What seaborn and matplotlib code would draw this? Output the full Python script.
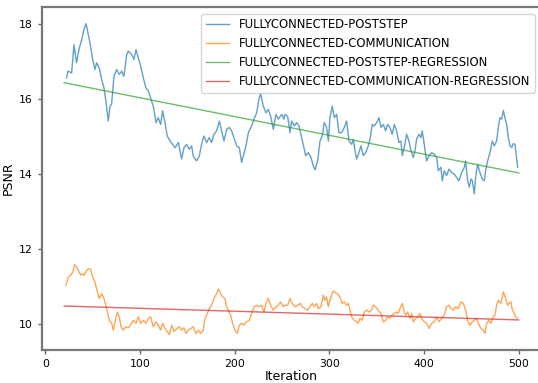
import numpy as np
import pandas as pd
import matplotlib
matplotlib.use("Agg")
import matplotlib.pyplot as plt
import seaborn as sns

# ---- data ----
poststep_iter = [22.5, 24, 27.8, 30.3, 33, 35.9, 38.4, 40.8, 43, 44.4, 47.2, 50, 52.5, 54.2, 57, 59.5,
                 62, 64, 66.5, 68.3, 70, 72.5, 75.3, 78.2, 80.6, 83, 86, 87.7, 91.2, 93.6, 95.8, 98.2,
                 100.7, 103.5, 106.3, 108.8, 111.2, 114, 116.9, 119.3, 121.8, 123.9, 126.4, 128.8, 131.7,
                 134.5, 137, 140.5, 144, 146.4, 149.3, 152, 154.5, 156.3, 159.8, 162.6, 165, 167.5, 170.4,
                 173.2, 175.6, 178.1, 180.9, 183.8, 186.2, 188.7, 191.5, 194.3, 196.8, 199.2, 202.1, 204.9,
                 207.3, 209.1, 211.9, 214.4, 217.9, 220.4, 223.2, 225.6, 227.4, 230.2, 233, 235.5, 238,
                 240.8, 243.6, 246.1, 249.6, 252,
                 253.1, 255.9, 258.4, 260.1, 263, 265.4, 267.9, 270.7, 273.5, 274.9, 277.7, 280.6, 283,
                 284.8, 287.6, 290.1, 292.5, 294.6, 297.1, 298.9, 300.6, 303.1, 305.2, 307.7, 310.1, 312.9,
                 315.8, 318.2, 320.7, 323.5, 325.3, 327, 328.8, 331.2, 333.4, 335.8, 338.3, 341.1, 342.9,
                 345.3, 347.4, 349.9, 352.4, 354.5, 357, 359.4, 361.5, 364, 366.4, 368.6, 371, 373.5, 375.6,
                 377, 379.1, 381.6, 384, 386.2, 388.6, 390.4, 392.1, 394.6, 396.7, 398.1, 400.2, 402.7,
                 405.2, 408, 410.8, 413.3, 415, 417.8, 419.2, 421.4, 423.8, 426.3, 429.1, 431.9, 434.4,
                 436.8, 439.7, 442.5, 443.9, 446, 447.8, 449.5, 451, 453, 454.4, 456.6, 459, 461.5, 463.6,
                 465, 467.1, 469.6, 472, 474.2, 476.6, 478.4, 480.1, 481.9, 483.7, 485.4, 487.2, 489,
                 490.7, 492.5, 494.2, 496, 498.8]
poststep_psnr = [16.56, 16.74, 16.69, 17.44, 16.96, 17.35, 17.57, 17.84, 18.0, 17.84, 17.49, 17.05, 16.78,
                 16.96, 16.82, 16.52, 16.29, 15.94, 15.41, 15.81, 15.85, 16.60, 16.78, 16.65, 16.74, 16.60,
                 17.18, 17.27, 17.18, 17.05, 17.31, 17.09, 16.87, 16.56, 16.29, 16.21, 16.03, 15.81, 15.37,
                 15.50, 15.32, 15.68, 15.37, 15.01, 14.88, 14.79, 14.70, 14.84, 14.40, 14.70, 14.79, 14.66,
                 14.75, 14.48, 14.35, 14.48, 14.79, 15.01, 14.84, 14.97, 14.84, 15.06, 15.15, 15.41, 15.15,
                 14.88, 15.19, 15.24, 15.15, 14.97, 14.75, 14.70, 14.31, 14.48, 14.75, 15.10, 15.28, 15.46,
                 15.63, 15.99, 16.14, 15.81, 15.63, 15.72, 15.54, 15.19, 15.59, 15.46, 15.59, 15.46,
                 15.59, 15.54, 15.10, 15.41, 15.28, 15.37, 15.28, 14.97, 14.66, 14.49, 14.57, 14.44, 14.22,
                 14.11, 14.35, 14.88, 15.02, 15.37, 15.24, 14.88, 15.50, 15.81, 15.50, 15.59, 15.10, 15.10,
                 15.24, 15.41, 14.88, 14.79, 14.93, 14.62, 14.40, 14.57, 14.75, 14.49, 14.57, 14.75, 14.93,
                 15.32, 15.28, 15.37, 15.50, 15.24, 15.32, 15.15, 15.32, 15.24, 15.06, 15.32, 15.15, 14.84,
                 14.88, 14.49, 14.71, 15.06, 14.88, 14.62, 14.44, 14.62, 14.93, 15.06, 14.97, 15.15, 14.79,
                 14.35, 14.49, 14.57, 14.53, 14.44, 14.09, 14.18, 13.82, 14.09, 13.96, 14.13, 14.04, 14.00,
                 13.91, 13.82, 14.04, 14.18, 14.35, 13.82, 13.65, 13.87, 13.82, 13.47, 13.91, 14.26, 14.04,
                 13.87, 13.82, 14.09, 14.35, 14.57, 14.88, 14.75, 14.88, 15.24, 15.50, 15.46, 15.69, 15.50,
                 15.32, 14.97, 14.75, 14.71, 14.81, 14.79, 14.18]

comm_iter = [21.8, 24.3, 26.8, 28.9, 31, 33.1, 34.9, 37.3, 39.4, 40.8, 43, 45.4, 47.9, 50, 52.5, 54.9, 57,
             59.5, 62, 64.8, 67.6, 70.1, 71.8, 73.6, 76, 78.2, 79.9, 82.4, 85.2, 87.7, 90.1, 92.9, 95.8,
             98.2, 100.7, 103.5, 106.3, 108.8, 111.2, 114, 116.9, 119.3, 121.8, 123.9, 126.4, 128.8, 131,
             133.4, 135.9, 138.7, 141.5, 144, 146.4, 148.6, 151, 153.5, 156.3, 159.1, 161.6, 164, 166.9,
             168.6, 170.4, 173.2, 175.6, 178.1, 180.9, 183.1, 185.2, 187.3, 189.7, 191.5, 193.3, 195.7,
             197.8, 200.3, 202.8, 204.9, 207.3, 209.8, 212.6, 215.4, 217.9, 220.4, 223.2, 226, 228.5,
             230.9, 233, 235.5, 238, 240.8, 243.6, 246.1, 248.5, 251.3,
             253.1, 255.9, 258.4, 260.8, 263.7, 266.5, 268.9, 271.4, 274.2, 277, 279.5, 282, 284.1, 286.5,
             288.3, 291.1, 293.6, 295.3, 297.1, 298.9, 300.6, 302.4, 304.1, 306.6, 308.7, 311.2, 313.6,
             315.8, 318.2, 320, 321.7, 323.5, 326.3, 328.8, 330.5, 332.3, 334.8, 336.9, 339.3, 341.8,
             344.6, 346.4, 348.8, 351.7, 354.5, 356.9, 359.4, 361.5, 364, 366.4, 368.6, 371, 372.8, 374.5,
             377, 379.1, 380.5, 382.6, 385.1, 386.9, 388.6, 391.1, 393.2, 395.7, 397.4, 400.2, 402.7,
             405.2, 408, 410.8, 413.3, 415.7, 418.5, 421.4, 423.8, 426.3, 428.4, 430.9, 433.3, 436.1,
             438.9, 441.4, 443.9, 446, 448.5, 451, 453, 455.5, 457.3, 460.1, 462.5, 464.3, 466.1, 468.5,
             470.6, 473.1, 474.9, 476.6, 478.4, 481.2, 483.7, 486.1, 488.2, 489.6, 491.8, 493.2, 495.3,
             496.7, 498.8]
comm_psnr = [11.04, 11.26, 11.31, 11.39, 11.59, 11.53, 11.44, 11.31, 11.35, 11.31, 11.41, 11.48, 11.47,
             11.26, 11.13, 10.87, 10.69, 10.82, 10.69, 10.42, 10.11, 10.03, 9.85, 10.07, 10.33, 10.20,
             9.94, 9.85, 9.94, 9.91, 9.98, 10.11, 10.03, 10.20, 10.03, 10.11, 10.03, 10.16, 10.20, 9.94,
             10.07, 9.98, 9.85, 10.03, 9.89, 9.81, 9.73, 9.98, 9.81, 9.88, 9.94, 9.85, 9.91, 9.76, 9.85,
             9.89, 9.94, 9.76, 9.85, 9.76, 9.85, 10.16, 10.25, 10.42, 10.51, 10.69, 10.82, 10.94, 10.82,
             10.73, 10.69, 10.47, 10.38, 10.25, 10.03, 9.85, 9.76, 9.98, 10.03, 9.98, 10.07, 10.11, 10.29,
             10.47, 10.51, 10.47, 10.51, 10.33, 10.55, 10.69, 10.51, 10.38, 10.47, 10.51, 10.60, 10.47,
             10.51, 10.51, 10.69, 10.56, 10.47, 10.51, 10.56, 10.47, 10.42, 10.38, 10.47, 10.56, 10.47,
             10.56, 10.42, 10.47, 10.78, 10.64, 10.73, 10.47, 10.64, 10.78, 10.89, 10.84, 10.82, 10.73,
             10.56, 10.60, 10.51, 10.56, 10.38, 10.20, 10.11, 10.07, 10.03, 10.16, 10.11, 10.33, 10.38,
             10.33, 10.38, 10.51, 10.47, 10.38, 10.29, 10.07, 10.11, 10.20, 10.16, 10.25, 10.29, 10.33,
             10.29, 10.42, 10.56, 10.33, 10.25, 10.33, 10.16, 10.29, 10.07, 10.16, 10.20, 10.29, 10.16,
             10.07, 10.03, 9.89, 10.03, 10.07, 10.20, 10.07, 10.16, 10.25, 10.47, 10.51, 10.42, 10.38,
             10.47, 10.42, 10.60, 10.56, 10.38, 10.11, 9.98, 10.07, 10.11, 10.16, 10.03, 9.89, 9.85,
             9.76, 10.03, 10.11, 10.03, 10.20, 10.25, 10.51, 10.64, 10.56, 10.87, 10.69, 10.51, 10.56,
             10.60, 10.38, 10.29, 10.20, 10.16]

reg_iter = [20, 500]
poststep_reg = [16.43, 14.03]
comm_reg = [10.49, 10.12]

labels = ["FULLYCONNECTED-POSTSTEP", "FULLYCONNECTED-COMMUNICATION",
          "FULLYCONNECTED-POSTSTEP-REGRESSION", "FULLYCONNECTED-COMMUNICATION-REGRESSION"]

# ---- plot ----
fig = plt.figure(figsize=(5.38, 3.83), dpi=100)
ax = fig.add_axes([41.5 / 538, 33 / 383, 500 / 538, 343.2 / 383])

sns.lineplot(x=poststep_iter, y=poststep_psnr, ax=ax, color="tab:blue", alpha=0.7, lw=1,
             label=labels[0], estimator=None, sort=False)
sns.lineplot(x=comm_iter, y=comm_psnr, ax=ax, color="tab:orange", alpha=0.7, lw=1,
             label=labels[1], estimator=None, sort=False)
sns.lineplot(x=reg_iter, y=poststep_reg, ax=ax, color="tab:green", alpha=0.7, lw=1,
             label=labels[2], estimator=None, sort=False)
sns.lineplot(x=reg_iter, y=comm_reg, ax=ax, color="tab:red", alpha=0.7, lw=1,
             label=labels[3], estimator=None, sort=False)

ax.set_xlim(-4, 524)
ax.set_ylim(9.32, 18.45)
ax.set_xticks([0, 100, 200, 300, 400, 500])
ax.set_yticks([10, 12, 14, 16, 18])
ax.set_xlabel("Iteration", fontsize=9, labelpad=1)
ax.set_ylabel("PSNR", fontsize=9, labelpad=3)
ax.tick_params(labelsize=7.8, color="#666666", width=1, length=3)
for s in ax.spines.values():
    s.set_color("#777777")
    s.set_linewidth(1.6)

ax.legend(loc="upper right", fontsize=8.4, frameon=True, borderaxespad=0.6)

fig.savefig("out.png", dpi=100)
